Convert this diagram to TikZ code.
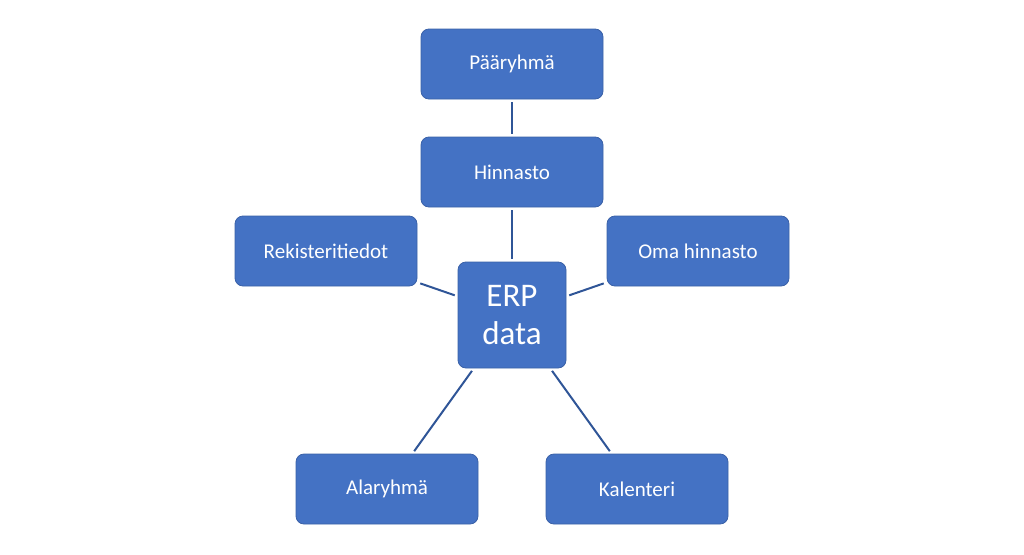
\documentclass[tikz,border=0pt]{standalone}
\usepackage{fontspec}
\setmainfont{Carlito}
\definecolor{boxblue}{HTML}{4472C4}
\definecolor{edgeblue}{HTML}{2F5597}
\begin{document}
\begin{tikzpicture}[x=1pt,y=-1pt,
  box/.style={fill=boxblue,draw=boxblue!85!black,line width=0.8pt,rounded corners=8pt,text=white,font=\fontsize{21}{24}\selectfont,minimum width=182pt,minimum height=70pt,inner sep=0pt},
  link/.style={draw=edgeblue,line width=2pt,shorten <=3pt,shorten >=3pt}]
\useasboundingbox (0,0) rectangle (1024,554);
\node[box] (paa) at (512,64) {Pääryhmä};
\node[box] (hin) at (512,172) {Hinnasto};
\node[box] (rek) at (326,251) {Rekisteritiedot};
\node[box] (oma) at (698,251) {Oma hinnasto};
\node[box,minimum width=108pt,minimum height=106pt,align=center,font=\fontsize{33}{38}\selectfont] (erp) at (512,315) {ERP\\data};
\node[box] (ala) at (387,489) {Alaryhmä};
\node[box] (kal) at (637,489) {Kalenteri};
\draw[link] (paa) -- (hin);
\draw[link] (hin) -- (erp);
\draw[link] (rek) -- (erp);
\draw[link] (oma) -- (erp);
\draw[link] (ala) -- (erp);
\draw[link] (kal) -- (erp);
\end{tikzpicture}
\end{document}
